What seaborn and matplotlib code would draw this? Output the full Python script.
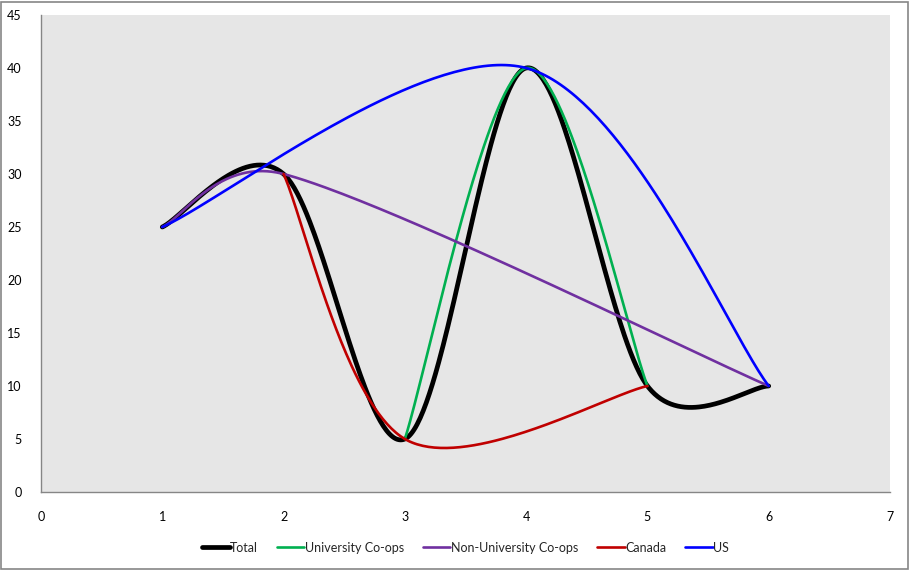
import numpy as np
import pandas as pd
import matplotlib
matplotlib.use("Agg")
import matplotlib.pyplot as plt
import seaborn as sns

# series data (x, y)
total_x = [1, 2, 3, 4, 5, 6]
total_y = [25, 30, 5, 40, 10, 10]
univ_x = [3, 4, 5]
univ_y = [5, 40, 10]
nonuniv_x = [1, 2, 6]
nonuniv_y = [25, 30, 10]
canada_x = [2, 3, 5]
canada_y = [30, 5, 10]
us_x = [1, 4, 6]
us_y = [25, 40, 10]

series = [
    ("Total", total_x, total_y, "#000000", 3.4),
    ("University Co-ops", univ_x, univ_y, "#00B050", 1.9),
    ("Non-University Co-ops", nonuniv_x, nonuniv_y, "#7030A0", 1.9),
    ("Canada", canada_x, canada_y, "#C00000", 1.9),
    ("US", us_x, us_y, "#0000FF", 1.9),
]

# pixels per data unit, used so the smoothing behaves like Excel (screen space)
PX = 849 / 7
PY = 477 / 45


def smooth(xs, ys, n=80):
    # Excel-style smoothed line: bezier segments, catmull-rom tangents,
    # control arms capped at half the segment length
    pts = np.column_stack([np.array(xs) * PX, np.array(ys) * PY]).astype(float)
    out = []
    t = np.linspace(0, 1, n)[:, None]
    for i in range(len(pts) - 1):
        p0 = pts[max(i - 1, 0)]
        p1 = pts[i]
        p2 = pts[i + 1]
        p3 = pts[min(i + 2, len(pts) - 1)]
        d12 = np.linalg.norm(p2 - p1)
        a1 = (p2 - p0) / 6
        a2 = (p3 - p1) / 6
        for a in (a1, a2):
            L = np.linalg.norm(a)
            if L > d12 / 2:
                a *= (d12 / 2) / L
        c1 = p1 + a1
        c2 = p2 - a2
        seg = ((1 - t) ** 3) * p1 + 3 * ((1 - t) ** 2) * t * c1 + 3 * (1 - t) * t ** 2 * c2 + t ** 3 * p2
        out.append(seg if i == 0 else seg[1:])
    out = np.vstack(out)
    return out[:, 0] / PX, out[:, 1] / PY


sns.set_style("white")
plt.rcParams['font.family'] = ['Lato', 'DejaVu Sans']

fig = plt.figure(figsize=(9.1, 5.7), dpi=100)
ax = fig.add_axes([41 / 910, 78 / 570, 849 / 910, 477 / 570])
ax.set_facecolor("#E6E6E6")

for name, xs, ys, col, lw in series:
    sx, sy = smooth(xs, ys)
    df = pd.DataFrame({"x": sx, "y": sy})
    sns.lineplot(data=df, x="x", y="y", sort=False, estimator=None, color=col,
                 linewidth=lw, label=name, ax=ax, solid_capstyle="round")

ax.set_xlim(0, 7)
ax.set_ylim(0, 45)
ax.set_xticks(range(0, 8))
ax.set_yticks(range(0, 46, 5))
ax.set_xlabel("")
ax.set_ylabel("")
for s in ["top", "right"]:
    ax.spines[s].set_visible(False)
for s in ["left", "bottom"]:
    ax.spines[s].set_color("#868686")
    ax.spines[s].set_linewidth(1.0)
ax.tick_params(axis="both", length=0, labelsize=9, colors="black")
ax.tick_params(axis="x", pad=14)
ax.tick_params(axis="y", pad=14)

ax.legend(loc="center", bbox_to_anchor=(0.5, -0.117), ncol=5, frameon=False,
          fontsize=9, handlelength=2.2, handletextpad=0.05, columnspacing=1.5)

fig.patches.append(plt.Rectangle((1 / 910, 1 / 570), 907 / 910, 567 / 570, transform=fig.transFigure,
                                 fill=False, edgecolor="#868686", linewidth=1.2))

fig.savefig("out.png", dpi=100)
